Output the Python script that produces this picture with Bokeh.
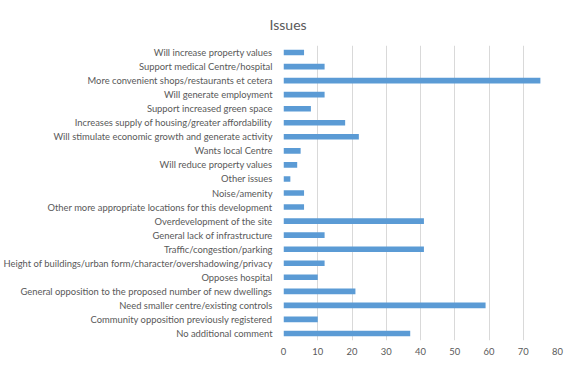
from bokeh.plotting import figure
from bokeh.models import FactorRange, Range1d, FixedTicker
from bokeh.embed import file_html
from bokeh.resources import INLINE

categories = [
    "Will increase property values",
    "Support medical Centre/hospital",
    "More convenient shops/restaurants et cetera",
    "Will generate employment",
    "Support increased green space",
    "Increases supply of housing/greater affordability",
    "Will stimulate economic growth and generate activity",
    "Wants local Centre",
    "Will reduce property values",
    "Other issues",
    "Noise/amenity",
    "Other more appropriate locations for this development",
    "Overdevelopment of the site",
    "General lack of infrastructure",
    "Traffic/congestion/parking",
    "Height of buildings/urban form/character/overshadowing/privacy",
    "Opposes hospital",
    "General opposition to the proposed number of new dwellings",
    "Need smaller centre/existing controls",
    "Community opposition previously registered",
    "No additional comment",
]
values = [6, 12, 75, 12, 8, 18, 22, 5, 4, 2, 6, 6, 41, 12, 41, 12, 10, 21, 59, 10, 37]
x_ticks = [0, 10, 20, 30, 40, 50, 60, 70, 80]
title_text = "Issues"

FONT = "Lato"
TXT = "#595959"

p = figure(width=576, height=368, output_backend="svg", toolbar_location=None,
           y_range=FactorRange(*categories[::-1], range_padding=0),
           x_range=Range1d(0, 80),
           min_border_left=283, min_border_right=19, min_border_top=42, min_border_bottom=28,
           title=title_text)
p.outline_line_color = None
p.background_fill_color = "white"
p.border_fill_color = "white"

p.title.align = "left"
p.title.offset = -14
p.title.text_font = FONT
p.title.text_font_size = "14px"
p.title.text_font_style = "normal"
p.title.text_color = TXT
p.title.standoff = 26

p.hbar(y=categories, right=values, left=0, height=0.4, color="#5b9bd5", line_color=None)

for ax in (p.xaxis, p.yaxis):
    ax.axis_line_color = None
    ax.major_tick_line_color = None
    ax.minor_tick_line_color = None
    ax.major_tick_out = 0
    ax.major_tick_in = 0
    ax.minor_tick_out = 0
    ax.minor_tick_in = 0
    ax.major_label_text_font = FONT
    ax.major_label_text_font_size = "9.4px"
    ax.major_label_text_color = TXT

p.xaxis.ticker = FixedTicker(ticks=x_ticks)
p.xaxis.major_label_standoff = 7
p.yaxis.major_label_standoff = 11

p.ygrid.grid_line_color = None
p.xgrid.grid_line_color = "#d9d9d9"
p.xgrid.grid_line_width = 1

open("out.html", "w").write(file_html(p, INLINE))
